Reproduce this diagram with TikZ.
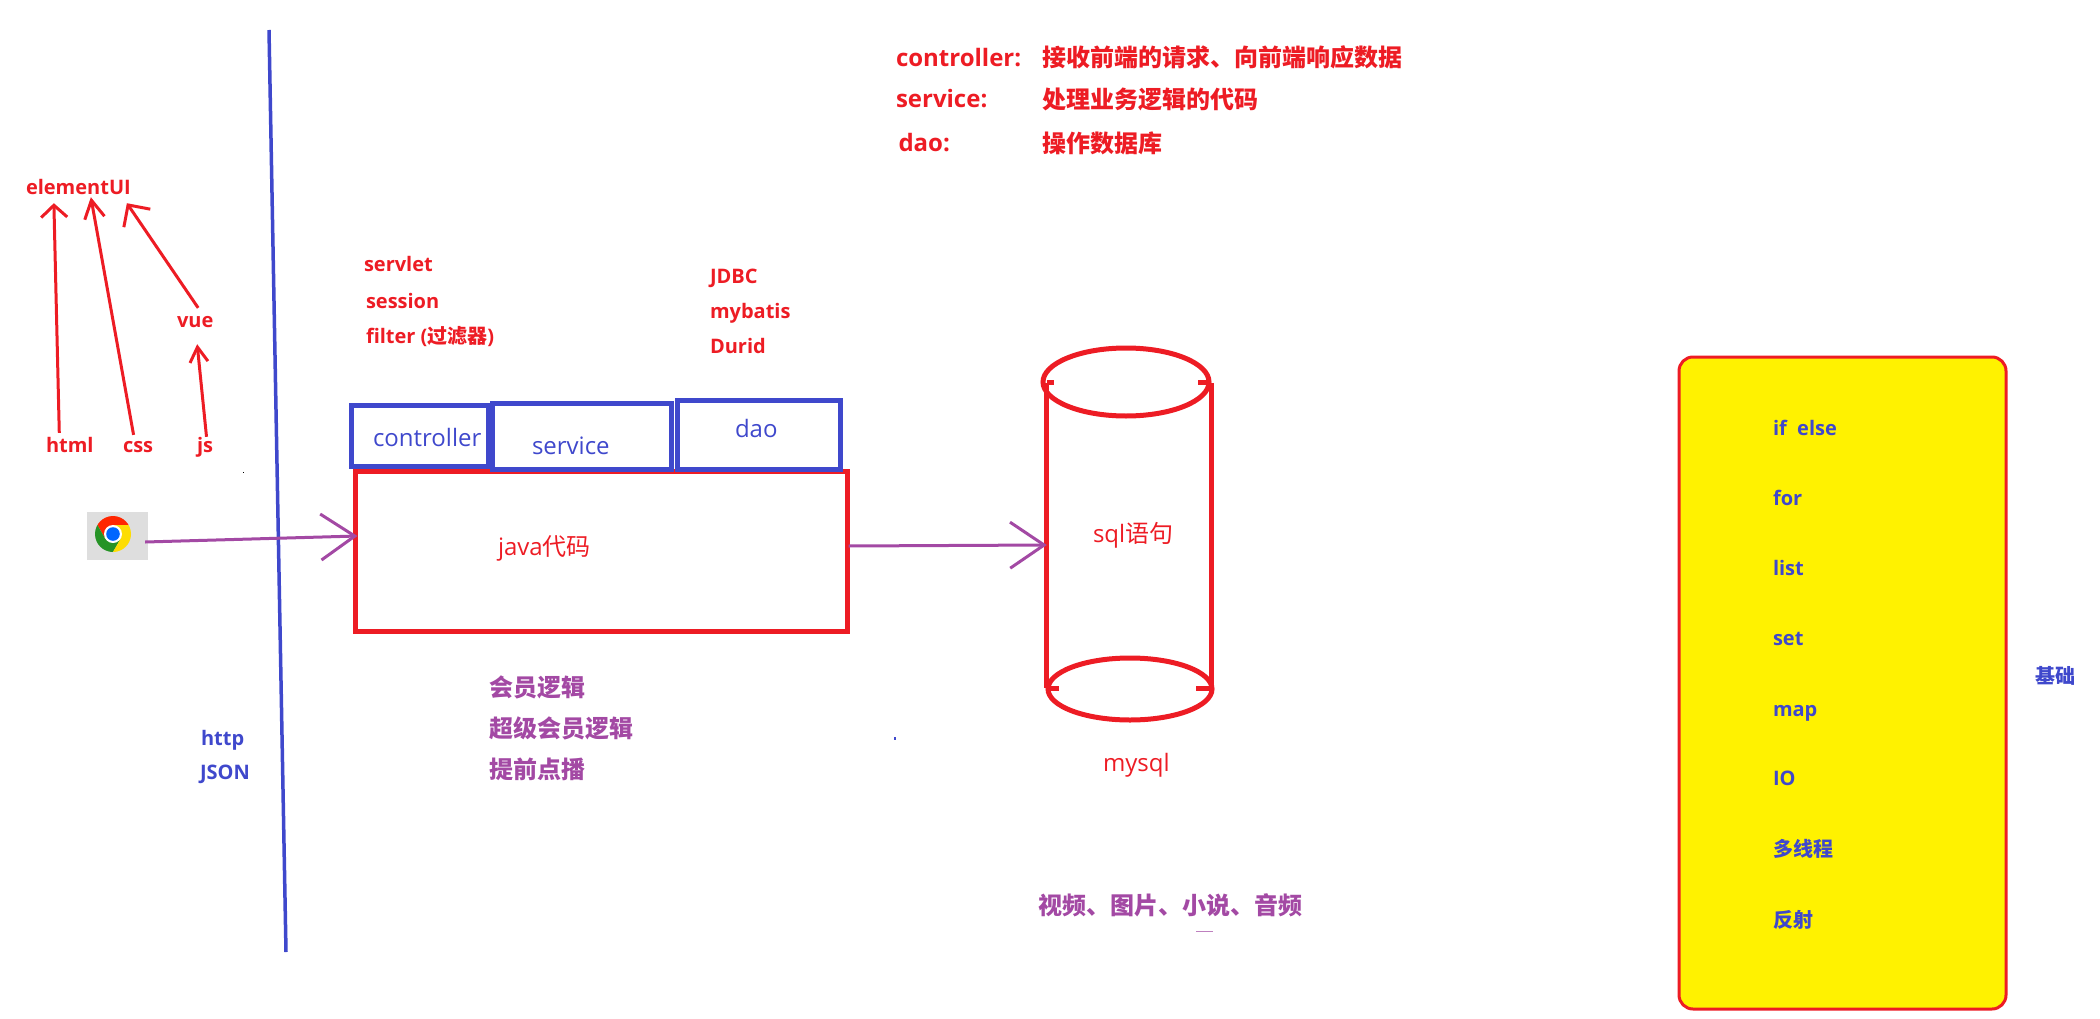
\documentclass[tikz,border=0pt]{standalone}
\usepackage{fontspec}
\usetikzlibrary{arrows.meta,shapes.geometric}
\setmainfont{Open Sans}
\newfontfamily\cjk{Noto Sans CJK SC}
\definecolor{paintred}{HTML}{ED1C24}
\definecolor{paintblue}{HTML}{3F48CC}
\definecolor{paintpurple}{HTML}{A349A4}
\definecolor{paintyellow}{HTML}{FFF200}
\tikzset{
	lbl/.style = {anchor=base west,inner sep=0pt,outer sep=0pt},
	redbold/.style = {lbl,text=paintred,font=\fontsize{20pt}{24pt}\selectfont\bfseries},
	topbold/.style = {lbl,text=paintred,font=\fontsize{24pt}{28pt}\selectfont\bfseries\cjk},
	toplatin/.style = {lbl,text=paintred,font=\fontsize{24pt}{28pt}\selectfont\bfseries},
	bluebold/.style = {lbl,text=paintblue,font=\fontsize{20pt}{24pt}\selectfont\bfseries},
	purplebold/.style = {lbl,text=paintpurple,font=\fontsize{24pt}{28pt}\selectfont\bfseries\cjk},
	bluetext/.style = {lbl,text=paintblue,font=\fontsize{24pt}{28pt}\selectfont},
	redtext/.style = {lbl,text=paintred,font=\fontsize{24pt}{28pt}\selectfont},
	bluebox/.style = {draw=paintblue,line width=5pt,inner sep=0pt},
	redbox/.style = {draw=paintred,line width=5pt,inner sep=0pt},
	redarrow/.style = {paintred,line width=3pt},
	purplearrow/.style = {paintpurple,line width=3pt,-{Straight Barb[length=34pt,width=46pt]}},
}

\begin{document}
\begin{tikzpicture}[x=1pt,y=-1pt]
	\useasboundingbox (0,0) rectangle (2100,1019);

	\coordinate (linetop) at (269,30);
	\coordinate (linebottom) at (286,952);
	\draw[paintblue,line width=3.5pt] (linetop) -- (linebottom);

	\node[redbold] (elementui) at (26,195) {elementUI};
	\node[redbold] (vue) at (177,327) {vue};
	\node[redbold] (html) at (46,452) {html};
	\node[redbold] (css) at (123,452) {css};
	\node[redbold] (js) at (197,452) {js};

	\draw[redarrow,-{Straight Barb[length=12pt,width=26pt]}] ([shift={(-10.5,-4)}]html.north) -- ([shift={(-24.5,8)}]elementui.south);
	\draw[redarrow,-{Straight Barb[length=18pt,width=20pt]}] ([shift={(-4.5,-6)}]css.north) -- ([shift={(12.5,2)}]elementui.south);
	\draw[redarrow,-{Straight Barb[length=16pt,width=32pt]}] ([shift={(3,-8)}]vue.north) -- ([shift={(48.5,8)}]elementui.south);
	\draw[redarrow,-{Straight Barb[length=15pt,width=18pt]}] ([shift={(1.5,0)}]js.north) -- ([shift={(2,17)}]vue.south);

	\node[fill=black!13,minimum width=61pt,minimum height=48pt,inner sep=0pt] (chrome) at (117.5,536) {};
	\begin{scope}[shift={(113,534)},yscale=-1]
		\clip (0,0) circle (18);
		\fill[red!70!orange] (0,9) -- (30,9) -- (30,30) -- (-30,30) -- (-22.8,21.5) -- (-7.8,-4.5) -- cycle;
		\fill[green!50!black!85!white] (-7.8,-4.5) -- (-22.8,21.5) -- (-30,30) -- (-30,-30) -- (-7.2,-30.5) -- (7.8,-4.5) -- cycle;
		\fill[yellow!80!orange] (7.8,-4.5) -- (-7.2,-30.5) -- (30,-30) -- (30,9) -- (0,9) -- cycle;
		\fill[white] (0,0) circle (9);
		\fill[blue!60!cyan] (0,0) circle (6.8);
	\end{scope}

	\node[redbold] (servlet) at (364,271) {servlet};
	\node[redbold] (session) at (366,308) {session};
	\node[redbold] (filter) at (366,343) {filter ({\cjk 过滤器})};
	\node[redbold] (jdbc) at (710,283) {JDBC};
	\node[redbold] (mybatis) at (710,318) {mybatis};
	\node[redbold] (durid) at (710,353) {Durid};

	\node[redbox,minimum width=492pt,minimum height=160pt] (java) at (601,551) {};
	\node[bluebox,minimum width=137pt,minimum height=61pt] (controllerbox) at (419.5,436) {};
	\node[bluebox,minimum width=178.5pt,minimum height=66pt] (servicebox) at (582,436.5) {};
	\node[bluebox,minimum width=163.5pt,minimum height=69pt] (daobox) at (759,434.5) {};
	\node[bluetext] (controllertext) at (373,446) {controller};
	\node[bluetext] (servicetext) at (532,454) {service};
	\node[bluetext] (daotext) at (735,437) {dao};
	\node[redtext] (javatext) at (498,555) {java{\cjk 代码}};

	\node[inner sep=0pt,minimum width=164pt,minimum height=305pt] (mysqlbody) at (1129,535.5) {};
	\draw[redbox] (mysqlbody.north west) -- (mysqlbody.south west);
	\draw[redbox] (mysqlbody.north east) -- (mysqlbody.south east);
	\node[redbox,ellipse,minimum width=166pt,minimum height=68pt] (mysqltop) at (1126,382) {};
	\node[redbox,ellipse,minimum width=164pt,minimum height=62pt] (mysqlbottom) at (1130,689) {};
	\draw[redbox] (mysqlbody.north west) -- ++(7,0);
	\draw[redbox] (mysqlbody.north east) -- ++(-13,0);
	\draw[redbox] (mysqlbody.south west) -- ++(12,0);
	\draw[redbox] (mysqlbody.south east) -- ++(-15,0);
	\node[redtext] (sqltext) at (1093,542) {sql{\cjk 语句}};
	\node[redtext] (mysqltext) at (1103,771) {mysql};

	\draw[purplearrow] ([shift={(-3,6)}]chrome.east) -- ([shift={(5,-15)}]java.west);
	\draw[purplearrow] ([shift={(-1,-5)}]java.east) -- ([shift={(0,9.5)}]mysqlbody.west);

	\node[toplatin] (topcontroller) at (896,67) {controller:};
	\node[topbold] (topcontrollertext) at (1042,67) {接收前端的请求、向前端响应数据};
	\node[toplatin] (topservice) at (896,108) {service:};
	\node[topbold] (topservicetext) at (1042,109) {处理业务逻辑的代码};
	\node[toplatin] (topdao) at (898.5,152) {dao:};
	\node[topbold] (topdaotext) at (1042,153) {操作数据库};

	\node[bluebold] (http) at (201,745) {http};
	\node[bluebold] (json) at (200,779) {JSON};

	\node[purplebold] (member) at (489,696) {会员逻辑};
	\node[purplebold] (supermember) at (489,737) {超级会员逻辑};
	\node[purplebold] (preview) at (489,778) {提前点播};
	\node[purplebold] (media) at (1038,914) {视频、图片、小说、音频};

	\fill[paintpurple!70] (1196,930.5) rectangle (1213,931.5);
	\fill[paintblue] (894,737) rectangle (896,740);
	\fill[black] (242.5,471.5) rectangle (244,473);

	\node[draw=paintred,fill=paintyellow,line width=3pt,rounded corners=14pt,minimum width=327pt,minimum height=652pt] (basics) at (1842.5,683) {};
	\node[bluebold] (ifelse) at (1773,435) {if\ \ else};
	\node[bluebold] (for) at (1773,505) {for};
	\node[bluebold] (list) at (1773,575) {list};
	\node[bluebold] (set) at (1773,645.5) {set};
	\node[bluebold] (map) at (1773,716) {map};
	\node[bluebold] (io) at (1773,785) {IO};
	\node[bluebold] (thread) at (1773,856) {\cjk 多线程};
	\node[bluebold] (reflect) at (1773,927) {\cjk 反射};
	\node[bluebold] (basiclabel) at (2035,683) {\cjk 基础};
\end{tikzpicture}
\end{document}
